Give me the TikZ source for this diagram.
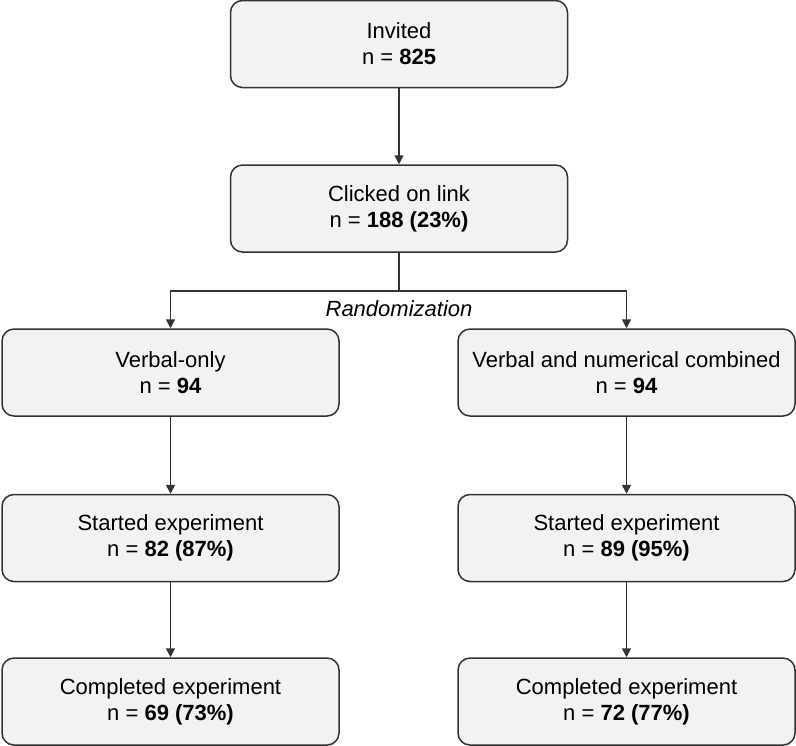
\documentclass[tikz,border=0pt]{standalone}
\usepackage{fontspec}
\setmainfont{Liberation Sans}
\usepackage{xcolor}
\usepackage{tikz}
\usetikzlibrary{arrows.meta,calc,positioning}
\definecolor{boxedge}{RGB}{51,51,51}
\definecolor{boxbg}{RGB}{242,242,242}
\tikzset{
  flowbox/.style={draw=boxedge,fill=boxbg,rounded corners=6pt,line width=0.75pt,
    minimum width=168.5pt,minimum height=43.5pt,align=center,inner sep=2pt},
  flowarrow/.style={-{Triangle[length=4.5pt,width=4.5pt]},draw=boxedge,line width=0.75pt}
}

\begin{document}
\begin{tikzpicture}[x=0.5pt,y=-0.5pt,font=\fontsize{11}{13}\selectfont,node distance=38pt]
  \useasboundingbox (0,0) rectangle (796,745);

  % --- Recruitment ---
  \node[flowbox] (invited) at (399,44) {Invited\\n = \textbf{825}};
  \node[flowbox,below=of invited] (clicked) {Clicked on link\\n = \textbf{188 (23\%)}};

  % --- Randomized arms ---
  \node[flowbox] (verbal) at (170.5,372.5) {Verbal-only\\n = \textbf{94}};
  \node[flowbox] (combined) at (626.5,372.5) {Verbal and numerical combined\\n = \textbf{94}};

  \node[flowbox,below=38.5pt of verbal] (startedV) {Started experiment\\n = \textbf{82 (87\%)}};
  \node[flowbox,below=38.5pt of combined] (startedC) {Started experiment\\n = \textbf{89 (95\%)}};

  \node[flowbox,below=37.5pt of startedV] (completedV) {Completed experiment\\n = \textbf{69 (73\%)}};
  \node[flowbox,below=37.5pt of startedC] (completedC) {Completed experiment\\n = \textbf{72 (77\%)}};

  % --- Connectors ---
  \draw[flowarrow] (invited) -- (clicked);

  \coordinate (split) at (399,291);
  \draw[draw=boxedge,line width=0.75pt] (clicked) -- (split);
  \draw[flowarrow] (split) -| (verbal.north);
  \draw[flowarrow] (split) -| (combined.north);
  \node[below=1pt of split,font=\fontsize{11}{13}\selectfont\itshape] (rand) {Randomization};

  \draw[flowarrow] (verbal) -- (startedV);
  \draw[flowarrow] (startedV) -- (completedV);
  \draw[flowarrow] (combined) -- (startedC);
  \draw[flowarrow] (startedC) -- (completedC);

\end{tikzpicture}
\end{document}
